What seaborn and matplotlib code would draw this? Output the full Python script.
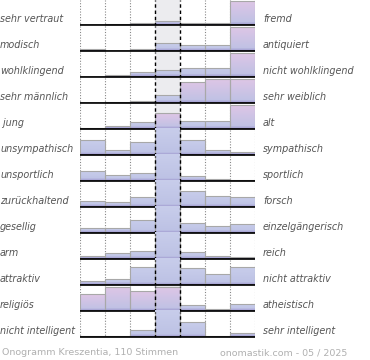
import numpy as np
import matplotlib
matplotlib.use("Agg")
import matplotlib.pyplot as plt
import seaborn as sns
from matplotlib.colors import to_rgb

# word pairs (left pole / right pole)
left_labels = ["sehr vertraut", "modisch", "wohlklingend", "sehr männlich", " jung",
               "unsympathisch", "unsportlich", "zurückhaltend", "gesellig", "arm",
               "attraktiv", "religiös", "nicht intelligent"]
right_labels = ["fremd", "antiquiert", "nicht wohlklingend", "sehr weiblich", "alt",
                "sympathisch", "sportlich", "forsch", "einzelgängerisch", "reich",
                "nicht attraktiv", "atheistisch", "sehr intelligent"]

# bar heights per scale step (100 = full row height, >100 is cut off)
steps = ["1", "2", "3", "4", "5", "6", "7"]
vals_vertraut = [0, 5, 8, 16, 8, 8, 98]
vals_modisch = [9, 0, 7, 31, 23, 23, 99]
vals_klang = [0, 8, 22, 30, 37, 37, 98]
vals_geschlecht = [0, 4, 7, 31, 86, 98, 98]
vals_alter = [5, 13, 27, 65, 31, 31, 99]
vals_sympathie = [60, 19, 52, 110, 60, 22, 13]
vals_sport = [42, 24, 34, 110, 20, 9, 4]
vals_forsch = [24, 20, 42, 110, 64, 45, 41]
vals_gesellig = [19, 22, 52, 110, 42, 30, 38]
vals_reich = [11, 23, 31, 110, 27, 13, 9]
vals_attraktiv = [15, 23, 72, 110, 68, 44, 72]
vals_religion = [68, 100, 80, 99, 23, 7, 27]
vals_intelligenz = [4, 5, 30, 110, 60, 3, 15]

rows = [vals_vertraut, vals_modisch, vals_klang, vals_geschlecht, vals_alter,
        vals_sympathie, vals_sport, vals_forsch, vals_gesellig, vals_reich,
        vals_attraktiv, vals_religion, vals_intelligenz]

# which bars get the pink tint
pink_bars = [{6}, {6}, {6}, {4, 5, 6}, {3, 6}, set(), set(), set(), set(), set(),
             set(), {0, 1, 2, 3}, set()]

W, H = 370, 360
fig = plt.figure(figsize=(W / 100, H / 100), dpi=100)
fig.patch.set_facecolor("white")

purple = np.array(to_rgb("#a49ed2"))
blue_bot = np.array(to_rgb("#bcc1e4"))
blue_top = np.array(to_rgb("#c8cdeb"))
pink_top = np.array(to_rgb("#dfc6e6"))

px = 100 / 24.5  # data units per pixel

def gradient(height, pink):
    n = 60
    ys = np.linspace(0, height, n)
    top = pink_top if pink else blue_top
    t = np.clip(ys / max(height, 1), 0, 1)[:, None]
    col = blue_bot * (1 - t) + top * t
    band = (ys < 2.2 * px)[:, None]
    col = np.where(band, purple * 0.7 + col * 0.3, col)
    return col[:, None, :]

for i, vals in enumerate(rows):
    base = 25 + 26 * i
    ax = fig.add_axes([80 / W, (H - base - 1) / H, 175 / W, 26 / H])
    sns.barplot(x=steps, y=vals, ax=ax, width=1, color="#c4cae8",
                edgecolor="#a8a8a8", linewidth=0.8, errorbar=None, zorder=2)
    bars = list(ax.containers[0])
    ax.axvspan(2.5, 3.5, color="#ececef", zorder=0, lw=0)
    for j, patch in enumerate(bars):
        h = vals[j]
        if h <= 0:
            patch.set_visible(False)
            continue
        img = ax.imshow(gradient(h, j in pink_bars[i]), origin="lower",
                        extent=(j - 0.5, j + 0.5, 0, h), aspect="auto",
                        zorder=1.5, interpolation="bilinear")
        img.set_clip_path(patch)
        patch.set_facecolor("none")
    for x in [-0.5, 0.5, 1.5, 4.5, 5.5, 6.5]:
        ax.axvline(x, color="#888888", ls=(0, (1, 1.5)), lw=0.8, zorder=1)
    for x in [2.5, 3.5]:
        ax.axvline(x, color="black", ls=(0, (2.5, 2)), lw=1.0, zorder=3)
    ax.axhline(0, color="black", lw=1.3, zorder=4)
    ax.axhline(-3.2, color="#b8b8b8", lw=0.9, zorder=4)
    ax.set_xlim(-0.5, 6.5)
    ax.set_ylim(-1 * px, 25 * px)
    ax.set_axis_off()

    ty = (H - base + 3) / H
    fig.text(0.0, ty, left_labels[i], fontsize=6.9, style="italic",
             color="#555555", va="baseline", ha="left")
    fig.text(263 / W, ty, right_labels[i], fontsize=6.9, style="italic",
             color="#555555", va="baseline", ha="left")

fig.text(2 / W, 5 / H, "Onogramm Kreszentia, 110 Stimmen", fontsize=6.8,
         color="#b0b0b0", va="baseline", ha="left")
fig.text(347 / W, 5 / H, "onomastik.com - 05 / 2025", fontsize=6.8,
         color="#b0b0b0", va="baseline", ha="right")

fig.savefig("out.png", dpi=100, facecolor="white")
